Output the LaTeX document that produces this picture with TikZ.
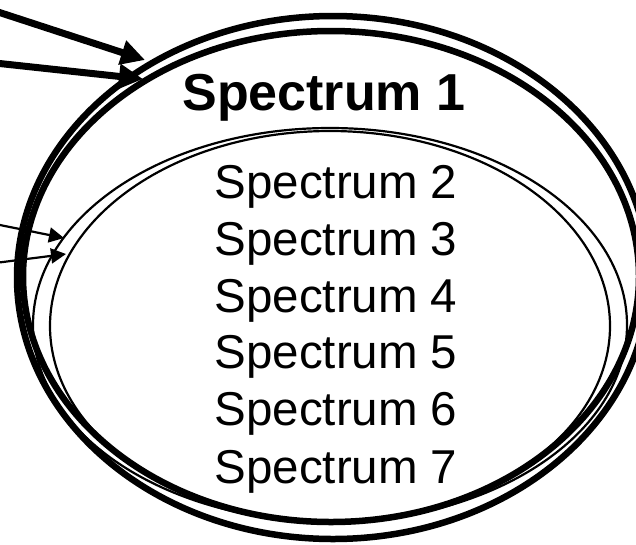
\documentclass[tikz,border=0pt]{standalone}
\usepackage{fontspec}
\setmainfont{Liberation Sans}
\usetikzlibrary{arrows.meta}

\tikzset{
  thickring/.style={line width=6.5pt},
  thinring/.style={line width=2.2pt},
  bigarrow/.style={line width=7pt, -{Triangle[length=24pt,width=24pt]}},
  smallarrow/.style={line width=2.2pt, -{Triangle[length=15pt,width=15pt]}},
  title/.style={font=\fontsize{52pt}{60pt}\selectfont\bfseries, anchor=base, inner sep=0pt},
  item/.style={font=\fontsize{47.5pt}{56pt}\selectfont, anchor=base, inner sep=0pt}
}

\begin{document}
\begin{tikzpicture}[x=1pt, y=-1pt]
  \useasboundingbox (0,0) rectangle (636,544);

  % outer double ring
  \draw[thickring] (333,277.5) ellipse [x radius=316pt, y radius=261.5pt];
  \draw[thickring] (331,276.5) ellipse [x radius=308pt, y radius=245.5pt];

  % inner double ring
  \draw[thinring] (330,325) ellipse [x radius=297pt, y radius=197pt];
  \draw[thinring] (330,326) ellipse [x radius=280pt, y radius=195pt];

  % labels
  \node[title] (s1) at (324,110) {Spectrum 1};
  \node[item] (s2) at (336,198) {Spectrum 2};
  \node[item] (s3) at (336,255) {Spectrum 3};
  \node[item] (s4) at (336,312) {Spectrum 4};
  \node[item] (s5) at (336,368) {Spectrum 5};
  \node[item] (s6) at (336,425) {Spectrum 6};
  \node[item] (s7) at (336,483) {Spectrum 7};

  % incoming arrows
  \coordinate (a1) at (-5,11);   \coordinate (t1) at (145,60);
  \coordinate (a2) at (-5,63);   \coordinate (t2) at (143,79);
  \coordinate (b1) at (-5,224);  \coordinate (u1) at (64,238);
  \coordinate (b2) at (-5,263);  \coordinate (u2) at (66,254);

  \draw[bigarrow] (a1) -- (t1);
  \draw[bigarrow] (a2) -- (t2);
  \draw[smallarrow] (b1) -- (u1);
  \draw[smallarrow] (b2) -- (u2);
\end{tikzpicture}
\end{document}
